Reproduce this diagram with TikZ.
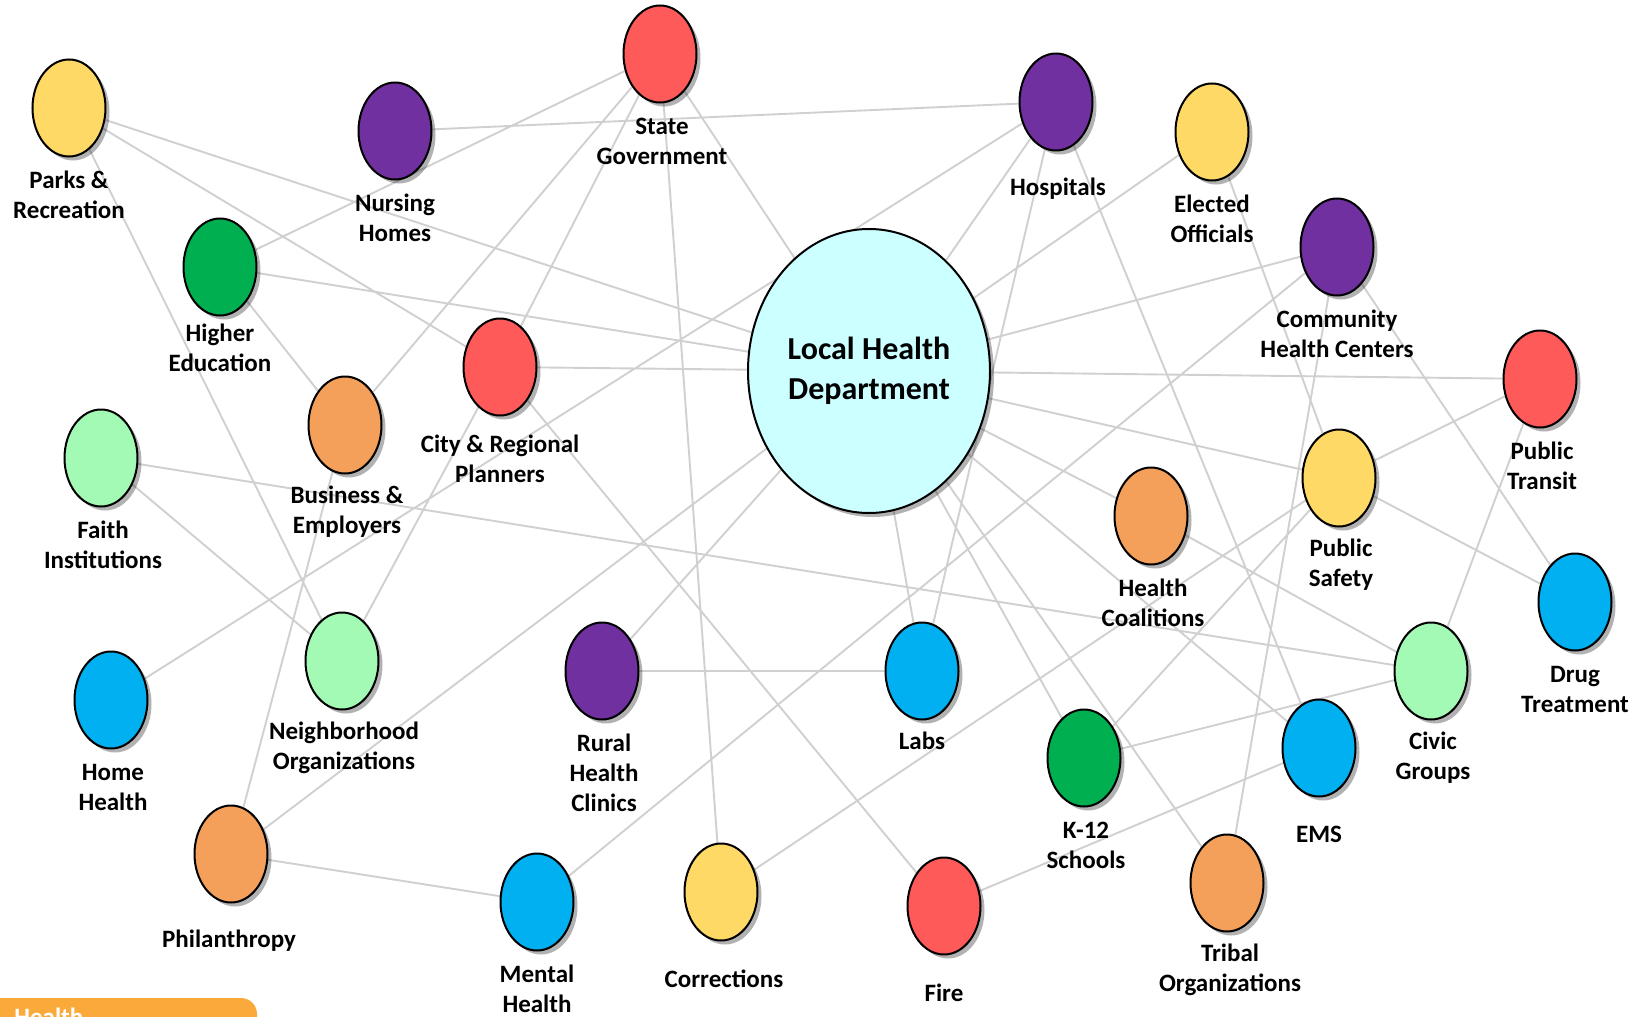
\documentclass[tikz,border=0pt]{standalone}
\usepackage{fontspec}
\setmainfont{Carlito}
\usetikzlibrary{shapes.geometric,shadows,calc,backgrounds}

\definecolor{orgyellow}{RGB}{255,217,102}
\definecolor{orgpurple}{RGB}{112,48,160}
\definecolor{orgred}{RGB}{255,90,90}
\definecolor{orggreen}{RGB}{0,176,80}
\definecolor{orgmint}{RGB}{163,250,181}
\definecolor{orgorange}{RGB}{244,160,90}
\definecolor{orgblue}{RGB}{0,176,240}
\definecolor{hubcyan}{RGB}{204,255,255}
\definecolor{linkgray}{RGB}{208,208,208}
\definecolor{tabamber}{RGB}{250,170,58}

\tikzset{
	org/.style={ellipse,draw=black,line width=1pt,fill=#1,minimum width=36.5pt,minimum height=48.5pt,inner sep=0pt,
		drop shadow={shadow xshift=2pt,shadow yshift=-2pt,opacity=.3,fill=black}},
	hub/.style={ellipse,draw=black,line width=1pt,fill=hubcyan,minimum width=121pt,minimum height=142pt,inner sep=0pt,
		align=center,font=\bfseries\fontsize{16}{20}\selectfont,
		drop shadow={shadow xshift=2pt,shadow yshift=-2pt,opacity=.3,fill=black}},
	tag/.style={align=center,inner sep=0pt,font=\bfseries\fontsize{12.5}{15}\selectfont},
	link/.style={draw=linkgray,line width=.95pt}
}

\begin{document}
\begin{tikzpicture}[x=0.5pt,y=-0.5pt]
		\useasboundingbox (0,0) rectangle (1639,1017);
		%
		\node[hub] (lhd) at (869,371) {Local Health\\Department};
		\node[org=orgyellow] (parks) at (69,108) {};
		\node[org=orgpurple] (nursing) at (395,131) {};
		\node[org=orgred] (state) at (660,54) {};
		\node[org=orgpurple] (hosp) at (1056,102) {};
		\node[org=orgyellow] (elected) at (1212,132) {};
		\node[org=orgpurple] (chc) at (1337,247) {};
		\node[org=orggreen] (higher) at (220,267) {};
		\node[org=orgred] (city) at (500,367) {};
		\node[org=orgorange] (business) at (345,425) {};
		\node[org=orgmint] (faith) at (101,458) {};
		\node[org=orgred] (transit) at (1540,379) {};
		\node[org=orgyellow] (safety) at (1339,478) {};
		\node[org=orgorange] (coalitions) at (1151,516) {};
		\node[org=orgblue] (drug) at (1575,602) {};
		\node[org=orgblue] (homehealth) at (111,700) {};
		\node[org=orgmint] (neighbor) at (342,661) {};
		\node[org=orgpurple] (rural) at (602,671) {};
		\node[org=orgblue] (labs) at (922,671) {};
		\node[org=orgmint] (civic) at (1431,671) {};
		\node[org=orggreen] (k12) at (1084,758) {};
		\node[org=orgblue] (ems) at (1319,748) {};
		\node[org=orgorange] (philan) at (231,854) {};
		\node[org=orgblue] (mental) at (537,902) {};
		\node[org=orgyellow] (correct) at (721,892) {};
		\node[org=orgred] (fire) at (944,906) {};
		\node[org=orgorange] (tribal) at (1227,883) {};
		%
		\node[tag] (parks-t) at ($(parks)+(0,87)$) {Parks \&\\Recreation};
		\node[tag] (nursing-t) at ($(nursing)+(0,87)$) {Nursing\\Homes};
		\node[tag] (state-t) at ($(state)+(2,87)$) {State\\Government};
		\node[tag] (hosp-t) at ($(hosp)+(2,87)$) {Hospitals};
		\node[tag] (elected-t) at ($(elected)+(0,87)$) {Elected\\Officials};
		\node[tag] (chc-t) at ($(chc)+(0,87)$) {Community\\Health Centers};
		\node[tag] (higher-t) at ($(higher)+(0,81)$) {Higher\\Education};
		\node[tag] (city-t) at ($(city)+(0,92)$) {City \& Regional\\Planners};
		\node[tag] (business-t) at ($(business)+(2,87)$) {Business \&\\Employers};
		\node[tag] (faith-t) at ($(faith)+(2,87)$) {Faith\\Institutions};
		\node[tag] (transit-t) at ($(transit)+(2,87)$) {Public\\Transit};
		\node[tag] (safety-t) at ($(safety)+(2,87)$) {Public\\Safety};
		\node[tag] (coalitions-t) at ($(coalitions)+(2,87)$) {Health\\Coalitions};
		\node[tag] (drug-t) at ($(drug)+(0,87)$) {Drug\\Treatment};
		\node[tag] (homehealth-t) at ($(homehealth)+(2,87)$) {Home\\Health};
		\node[tag] (neighbor-t) at ($(neighbor)+(2,87)$) {Neighborhood\\Organizations};
		\node[tag] (rural-t) at ($(rural)+(2,102)$) {Rural\\Health\\Clinics};
		\node[tag] (labs-t) at ($(labs)+(0,70)$) {Labs};
		\node[tag] (civic-t) at ($(civic)+(2,87)$) {Civic\\Groups};
		\node[tag] (k12-t) at ($(k12)+(2,87)$) {K-12\\Schools};
		\node[tag] (ems-t) at ($(ems)+(0,86)$) {EMS};
		\node[tag] (philan-t) at ($(philan)+(-2,87)$) {Philanthropy};
		\node[tag] (mental-t) at ($(mental)+(0,87)$) {Mental\\Health};
		\node[tag] (correct-t) at ($(correct)+(3,87)$) {Corrections};
		\node[tag] (fire-t) at ($(fire)+(0,87)$) {Fire};
		\node[tag] (tribal-t) at ($(tribal)+(3,87)$) {Tribal\\Organizations};
		%
		\begin{pgfonlayer}{background}
			\draw[link]
			(parks) -- (lhd)
			(parks) -- (city)
			(parks) -- (neighbor)
			(nursing) -- (hosp)
			(higher) -- (state)
			(higher) -- (lhd)
			(higher) -- (business)
			(business) -- (state)
			(business) -- (philan)
			(city) -- (state)
			(city) -- (lhd)
			(city) -- (fire)
			(city) -- (neighbor)
			(state) -- (lhd)
			(state) -- (correct)
			(homehealth) -- (hosp)
			(faith) -- (civic)
			(faith) -- (neighbor)
			(philan) -- (lhd)
			(philan) -- (mental)
			(mental) -- (chc)
			(rural) -- (lhd)
			(rural) -- (labs)
			(labs) -- (lhd)
			(labs) -- (hosp)
			(correct) -- (safety)
			(lhd) -- (hosp)
			(lhd) -- (elected)
			(lhd) -- (chc)
			(lhd) -- (transit)
			(lhd) -- (safety)
			(lhd) -- (coalitions)
			(lhd) -- (ems)
			(lhd) -- (tribal)
			(lhd) -- (k12)
			(hosp) -- (ems)
			(elected) -- (safety)
			(chc) -- (tribal)
			(chc) -- (drug)
			(transit) -- (safety)
			(transit) -- (civic)
			(safety) -- (drug)
			(k12) -- (safety)
			(k12) -- (civic)
			(coalitions) -- (civic)
			(ems) -- (fire);
		\end{pgfonlayer}
		%
		\begin{scope}
			\clip (0,998) rectangle (257,1017);
			\fill[tabamber,rounded corners=8pt] (-20,998) rectangle (257,1060);
			\node[anchor=north west,inner sep=0pt,text=white,font=\bfseries\fontsize{12.5}{15}\selectfont] (tab-t) at (14,1008) {Health};
		\end{scope}
	\end{tikzpicture}
\end{document}
